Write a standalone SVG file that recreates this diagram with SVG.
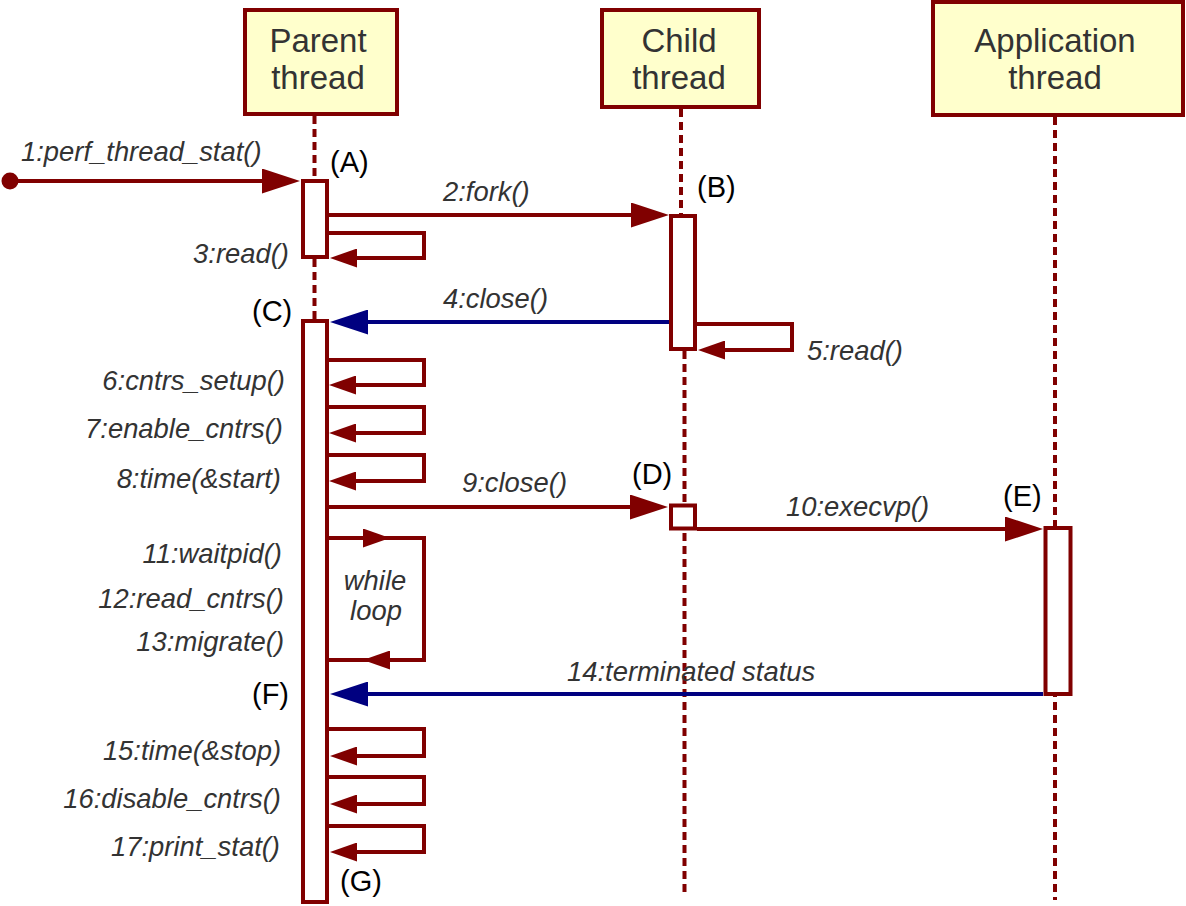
<svg xmlns="http://www.w3.org/2000/svg" width="1186" height="906" viewBox="0 0 1186 906">
<style>
.head{fill:#ffffcc;stroke:#800000;stroke-width:4}
.htxt{font-family:"Liberation Sans",Arial,sans-serif;font-size:33px;fill:#333333;text-anchor:middle}
.life{stroke:#800000;stroke-width:4;stroke-dasharray:8,5;fill:none}
.act{fill:#ffffff;stroke:#800000;stroke-width:4}
.msg{stroke:#800000;stroke-width:4;fill:none}
.ret{stroke:#000080;stroke-width:4;fill:none}
.lbl{font-family:"Liberation Sans",Arial,sans-serif;font-size:27.4px;font-style:italic;fill:#333333}
.end{text-anchor:end}
.tag{font-family:"Liberation Sans",Arial,sans-serif;font-size:29px;fill:#000000}
</style>
<defs>
<marker id="big" markerUnits="userSpaceOnUse" viewBox="0 0 38 25" markerWidth="38" markerHeight="25" refX="30" refY="12.5" orient="auto"><path d="M0,0 L38,12.5 L0,25 z" fill="#800000"/></marker>
<marker id="bigb" markerUnits="userSpaceOnUse" viewBox="0 0 38 25" markerWidth="38" markerHeight="25" refX="30" refY="12.5" orient="auto"><path d="M0,0 L38,12.5 L0,25 z" fill="#000080"/></marker>
<marker id="small" markerUnits="userSpaceOnUse" viewBox="0 0 27 19" markerWidth="27" markerHeight="19" refX="20" refY="9.5" orient="auto"><path d="M0,0 L27,9.5 L0,19 z" fill="#800000"/></marker>
</defs>

<g id="lifelines">
<line class="life" x1="314.5" y1="116" x2="314.5" y2="900"/>
<line class="life" x1="681" y1="109" x2="681" y2="216"/>
<line class="life" x1="684.5" y1="351" x2="684.5" y2="897"/>
<line class="life" x1="1055" y1="117" x2="1055" y2="900"/>
</g>

<g id="parent">
<rect class="head" x="245" y="10" width="152" height="104"/>
<text class="htxt" x="318" y="52">Parent</text>
<text class="htxt" x="318" y="89">thread</text>
</g>
<g id="child">
<rect class="head" x="602" y="10" width="157" height="97"/>
<text class="htxt" x="679" y="52">Child</text>
<text class="htxt" x="679" y="89">thread</text>
</g>
<g id="application">
<rect class="head" x="933" y="2" width="250" height="113"/>
<text class="htxt" x="1055" y="52">Application</text>
<text class="htxt" x="1055" y="89">thread</text>
</g>

<g id="activation-A"><rect class="act" x="303" y="181" width="24" height="76"/></g>
<g id="activation-B"><rect class="act" x="671" y="216" width="24" height="133"/></g>
<g id="activation-C"><rect class="act" x="303" y="321" width="24" height="581"/></g>
<g id="activation-D"><rect class="act" x="671" y="505.5" width="24" height="23"/></g>
<g id="activation-E"><rect class="act" x="1045.5" y="528" width="25" height="166"/></g>

<g id="connectors">
<circle cx="10" cy="181" r="8.5" fill="#800000"/>
<path class="msg" d="M10,181 H292" marker-end="url(#big)"/>
<path class="msg" d="M329,215 H661" marker-end="url(#big)"/>
<path class="msg" d="M329,233 H424 V258 H337" marker-end="url(#small)"/>
<path class="ret" d="M669,322 H338" marker-end="url(#bigb)"/>
<path class="msg" d="M697,324 H792 V350 H705" marker-end="url(#small)"/>
<path class="msg" d="M329,360 H424 V385 H336" marker-end="url(#small)"/>
<path class="msg" d="M329,407 H424 V433 H336" marker-end="url(#small)"/>
<path class="msg" d="M329,455 H424 V481 H336" marker-end="url(#small)"/>
<path class="msg" d="M329,507 H660" marker-end="url(#big)"/>
<path class="msg" d="M697,529 H1035" marker-end="url(#big)"/>
<path class="msg" d="M329,538 H383" marker-end="url(#small)"/>
<path class="msg" d="M381,538 H424 V660 H370" marker-end="url(#small)"/>
<path class="msg" d="M372,660 H329"/>
<path class="ret" d="M1043,694 H338" marker-end="url(#bigb)"/>
<path class="msg" d="M329,729 H424 V756 H337" marker-end="url(#small)"/>
<path class="msg" d="M329,777 H424 V804 H337" marker-end="url(#small)"/>
<path class="msg" d="M329,826 H424 V852 H337" marker-end="url(#small)"/>
</g>

<g id="labels">
<text class="lbl" x="21" y="161">1:perf_thread_stat()</text>
<text class="lbl" x="443" y="201">2:fork()</text>
<text class="lbl end" x="289" y="263">3:read()</text>
<text class="lbl" x="443" y="308">4:close()</text>
<text class="lbl" x="807" y="360">5:read()</text>
<text class="lbl end" x="285" y="390">6:cntrs_setup()</text>
<text class="lbl end" x="283" y="438">7:enable_cntrs()</text>
<text class="lbl end" x="281" y="488">8:time(&amp;start)</text>
<text class="lbl" x="462" y="492">9:close()</text>
<text class="lbl" x="786" y="516">10:execvp()</text>
<text class="lbl end" x="282" y="563">11:waitpid()</text>
<text class="lbl end" x="284" y="608">12:read_cntrs()</text>
<text class="lbl end" x="284" y="651">13:migrate()</text>
<text class="lbl" x="375" y="590" text-anchor="middle">while</text>
<text class="lbl" x="376" y="620" text-anchor="middle">loop</text>
<text class="lbl" x="567" y="681">14:terminated status</text>
<text class="lbl end" x="281" y="760">15:time(&amp;stop)</text>
<text class="lbl end" x="281" y="808">16:disable_cntrs()</text>
<text class="lbl end" x="280" y="856">17:print_stat()</text>
<text class="tag" x="330" y="172">(A)</text>
<text class="tag" x="697" y="197">(B)</text>
<text class="tag" x="252" y="321">(C)</text>
<text class="tag" x="632" y="484">(D)</text>
<text class="tag" x="1003" y="506">(E)</text>
<text class="tag" x="252" y="704">(F)</text>
<text class="tag" x="340" y="891">(G)</text>
</g>
</svg>
